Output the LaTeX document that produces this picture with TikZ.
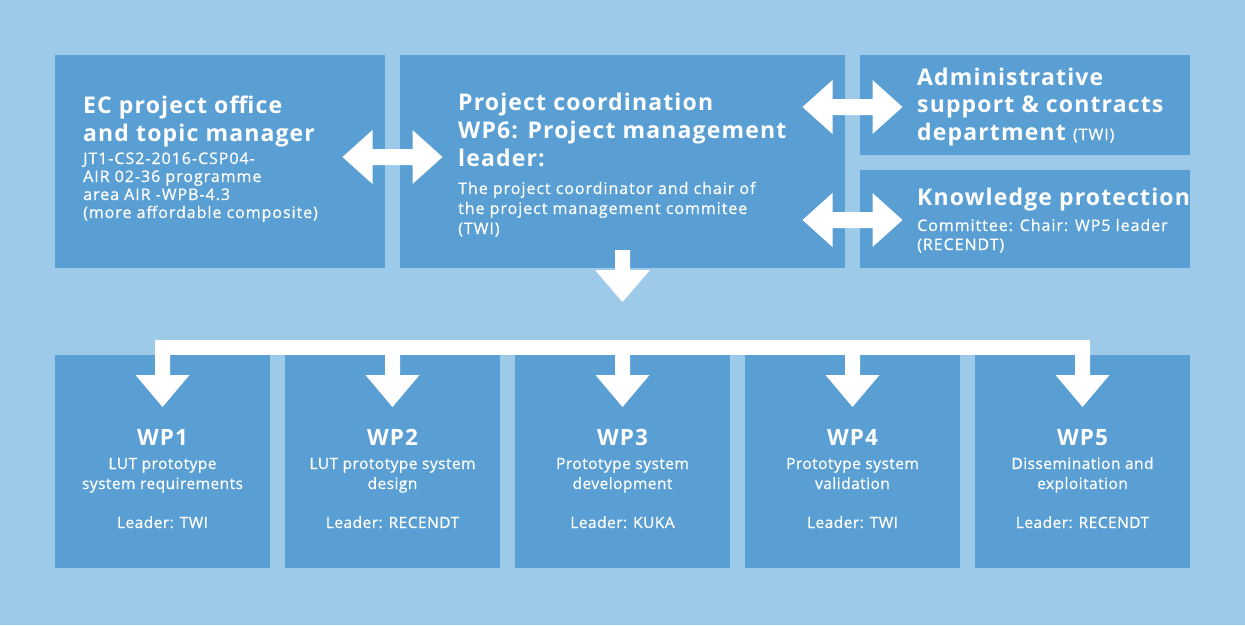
\documentclass[tikz,border=0pt]{standalone}
\usepackage{fontspec}
\setmainfont{Open Sans}
\newfontfamily\tfont[LetterSpace=5]{Open Sans}
\newfontfamily\bfont[LetterSpace=6,FakeBold=0.7]{Open Sans}
\newfontfamily\sfont[LetterSpace=3,FakeBold=0.7]{Open Sans}
\newfontfamily\wfont[LetterSpace=5]{Open Sans}
\definecolor{bg}{HTML}{9ECAE9}
\definecolor{bx}{HTML}{5A9FD4}
\begin{document}
\begin{tikzpicture}[x=1pt,y=-1pt,
  box/.style={fill=bx,draw=none},
  arr/.style={fill=white,draw=none},
  T/.style={text=white,inner sep=0,font=\tfont\fontsize{23}{23}\selectfont\bfseries},
  W/.style={text=white,inner sep=0,font=\wfont\fontsize{22.5}{22.5}\selectfont\bfseries},
  B/.style={text=white,inner sep=0,font=\bfont\fontsize{16}{16}\selectfont},
  S/.style={text=white,inner sep=0,font=\sfont\fontsize{15.5}{15.5}\selectfont}]
\fill[bg] (0,0) rectangle (1245,625);
\useasboundingbox (0,0) rectangle (1245,625);
% boxes
\fill[box] (55,55) rectangle (385,268);
\fill[box] (400,55) rectangle (845,268);
\fill[box] (860,55) rectangle (1190,155);
\fill[box] (860,170) rectangle (1190,268);
\foreach \x in {55,285,515,745,975}{\fill[box] (\x,355) rectangle ++(215,213);}
% double arrows
\foreach \cx/\cy in {392.5/157,852.5/107,852.5/220}{
 \fill[arr] (\cx-50,\cy) -- ++(30,-27) -- ++(0,19) -- (\cx+20,\cy-8) -- ++(0,-19) -- (\cx+50,\cy) -- (\cx+20,\cy+27) -- ++(0,-19) -- (\cx-20,\cy+8) -- ++(0,19) -- cycle;}
% down arrow
\fill[arr] (615,250) -- (630,250) -- (630,270) -- (650,270) -- (622.5,302) -- (595,270) -- (615,270) -- cycle;
% bar
\fill[arr] (155,340) rectangle (1090,355);
\foreach \cx in {162.5,392.5,622.5,852.5,1082.5}{
 \fill[arr] (\cx-7.5,350) -- (\cx+7.5,350) -- (\cx+7.5,375) -- (\cx+27,375) -- (\cx,407) -- (\cx-27,375) -- (\cx-7.5,375) -- cycle;}
% EC text
\node[T,anchor=base west] (ec1) at (83,113) {EC project office};
\node[T,anchor=base west] (ec2) at (83,141) {and topic manager};
\node[B,anchor=base west] (ec3) at (83,164) {JT1-CS2-2016-CSP04-};
\node[B,anchor=base west] (ec4) at (83,182) {AIR 02-36 programme};
\node[B,anchor=base west] (ec5) at (83,200) {area AIR -WPB-4.3};
\node[B,anchor=base west] (ec6) at (83,218) {(more affordable composite)};
% PC text
\node[T,anchor=base west] (pc1) at (458,110) {Project coordination};
\node[T,anchor=base west] (pc2) at (458,138) {WP6: Project management};
\node[T,anchor=base west] (pc3) at (458,166) {leader:};
\node[B,anchor=base west] (pc4) at (458,194) {The project coordinator and chair of};
\node[B,anchor=base west] (pc5) at (458,214) {the project management commitee};
\node[B,anchor=base west] (pc6) at (458,234) {(TWI)};
% Admin
\node[T,anchor=base west] (ad1) at (917,85) {Administrative};
\node[T,anchor=base west] (ad2) at (917,112) {support \& contracts};
\node[T,anchor=base west] (ad3) at (917,140) {department {\bfont\mdseries\fontsize{16}{16}\selectfont (TWI)}};
% Knowledge
\node[T,anchor=base west] (kp1) at (917,205) {Knowledge protection};
\node[B,anchor=base west] (kp2) at (917,231) {Committee: Chair: WP5 leader};
\node[B,anchor=base west] (kp3) at (917,250) {(RECENDT)};
% WPs
\foreach \n/\cx/\la/\lb/\ld in {1/162.5/LUT prototype/system requirements/TWI,
 2/392.5/LUT prototype system/design/RECENDT,
 3/622.5/Prototype system/development/KUKA,
 4/852.5/Prototype system/validation/TWI,
 5/1082.5/Dissemination and/exploitation/RECENDT}{
 \node[W,anchor=base] (wp\n t) at (\cx,445) {WP\n};
 \node[S,anchor=base] (wp\n a) at (\cx,469) {\la};
 \node[S,anchor=base] (wp\n b) at (\cx,489) {\lb};
 \node[S,anchor=base] (wp\n c) at (\cx,528) {Leader: \ld};}
\end{tikzpicture}
\end{document}
